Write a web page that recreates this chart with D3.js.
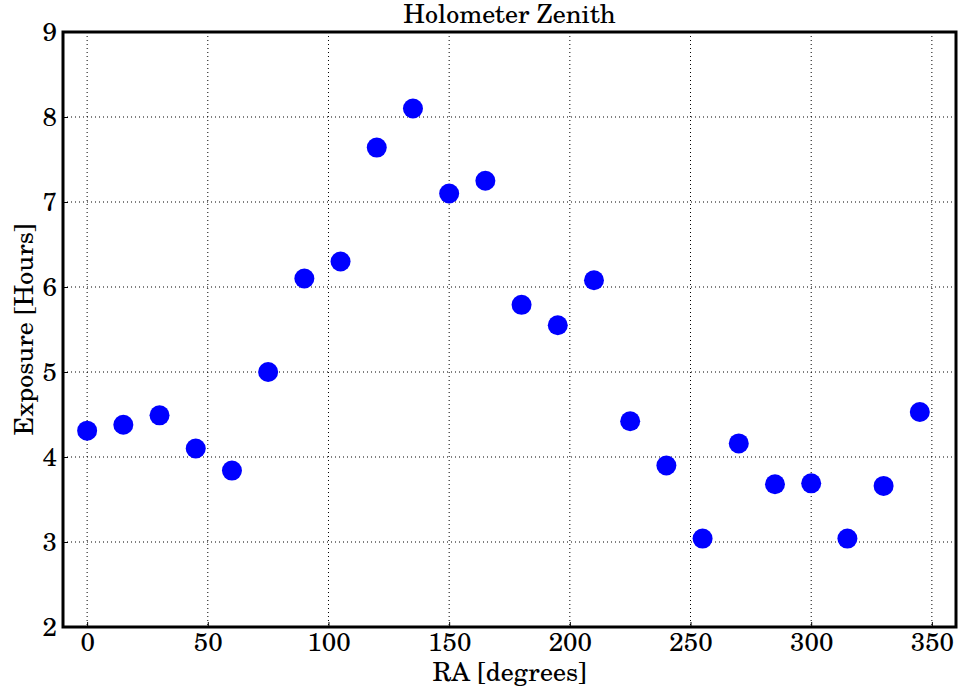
<!DOCTYPE html>
<html>
<head>
<meta charset="utf-8">
<script src="https://cdn.jsdelivr.net/npm/d3@7"></script>
</head>
<body style="margin:0;background:#fff">
<svg id="chart" width="958" height="692"></svg>
<script>
// Right ascension bins (degrees) and the exposure recorded in each (hours)
const raDegrees = [0, 15, 30, 45, 60, 75, 90, 105, 120, 135, 150, 165,
                   180, 195, 210, 225, 240, 255, 270, 285, 300, 315, 330, 345];
const exposureHours = [4.31, 4.38, 4.49, 4.10, 3.84, 5.00, 6.10, 6.30, 7.64, 8.10, 7.10, 7.25,
                       5.79, 5.55, 6.08, 4.42, 3.90, 3.04, 4.16, 3.68, 3.69, 3.04, 3.66, 4.53];
const xTicks = [0, 50, 100, 150, 200, 250, 300, 350];
const yTicks = [2, 3, 4, 5, 6, 7, 8, 9];

const FONT = '"TeX Gyre Schola", "DejaVu Serif", serif';
const FONT_SIZE = "26px";

const svg = d3.select("#chart");
const margin = { left: 63, right: 2, top: 32, bottom: 65 };
const width = 958 - margin.left - margin.right;
const height = 692 - margin.top - margin.bottom;

const x = d3.scaleLinear().domain([-10, 360]).range([0, width]);
const y = d3.scaleLinear().domain([2, 9]).range([height, 0]);

const g = svg.append("g").attr("transform", `translate(${margin.left},${margin.top})`);

// dotted grid
g.append("g").selectAll("line").data(xTicks).join("line")
  .attr("x1", d => x(d)).attr("x2", d => x(d))
  .attr("y1", 0).attr("y2", height)
  .attr("stroke", "#000").attr("stroke-width", 1).attr("stroke-dasharray", "1,3");
g.append("g").selectAll("line").data(yTicks.slice(1, -1)).join("line")
  .attr("y1", d => y(d)).attr("y2", d => y(d))
  .attr("x1", 0).attr("x2", width)
  .attr("stroke", "#000").attr("stroke-width", 1).attr("stroke-dasharray", "1,3");

// axes with inward ticks
const xAxis = g.append("g").attr("transform", `translate(0,${height})`)
  .call(d3.axisBottom(x).tickValues(xTicks).tickSize(-5).tickPadding(6).tickFormat(d3.format("d")));
const yAxis = g.append("g")
  .call(d3.axisLeft(y).tickValues(yTicks).tickSize(-5).tickPadding(6).tickFormat(d3.format("d")));
[xAxis, yAxis].forEach(a => {
  a.select(".domain").remove();
  a.selectAll(".tick line").attr("stroke", "#000").attr("stroke-width", 1);
  a.selectAll(".tick text").style("font-family", FONT).style("font-size", FONT_SIZE).style("fill", "#000");
});

// points
g.append("g").selectAll("circle").data(raDegrees).join("circle")
  .attr("cx", d => x(d))
  .attr("cy", (d, i) => y(exposureHours[i]))
  .attr("r", 10)
  .attr("fill", "#0000ff");

// frame
g.append("rect").attr("x", 0).attr("y", 0).attr("width", width).attr("height", height)
  .attr("fill", "none").attr("stroke", "#000").attr("stroke-width", 3);

// title and axis labels
const label = sel => sel.attr("text-anchor", "middle")
  .style("font-family", FONT).style("font-size", FONT_SIZE).style("fill", "#000");
svg.append("text").attr("x", margin.left + width / 2).attr("y", 23)
  .call(label).text("Holometer Zenith");
svg.append("text").attr("x", margin.left + width / 2).attr("y", 681)
  .call(label).text("RA [degrees]");
svg.append("text")
  .attr("transform", `translate(33,${margin.top + height / 2}) rotate(-90)`)
  .call(label).text("Exposure [Hours]");
</script>
</body>
</html>
